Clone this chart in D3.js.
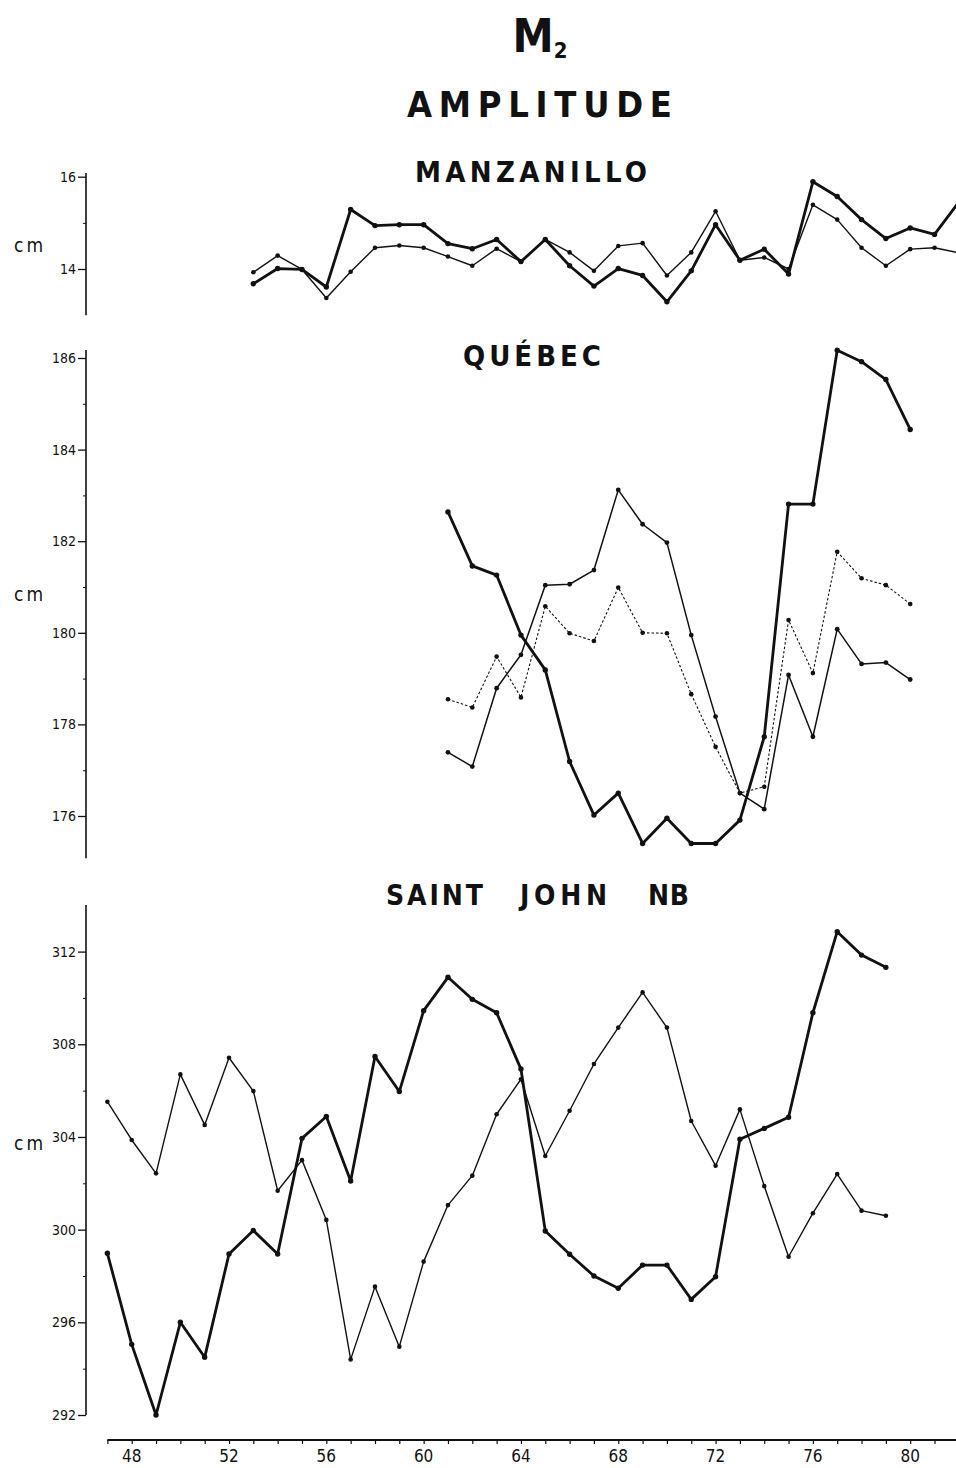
<!DOCTYPE html>
<html>
<head>
<meta charset="utf-8">
<script src="https://cdnjs.cloudflare.com/ajax/libs/d3/7.8.5/d3.min.js"></script>
<style>
body { margin:0; background:#fff; }
svg { display:block; }
.title { font-family:"DejaVu Sans Condensed","DejaVu Sans",sans-serif; font-weight:bold; fill:#111; }
.lbl { font-family:"DejaVu Sans Condensed","DejaVu Sans",sans-serif; fill:#111; }
.axis path, .axis line { stroke:#111; }
</style>
</head>
<body>
<script>
// ---- data ----
var manzYears = [53,54,55,56,57,58,59,60,61,62,63,64,65,66,67,68,69,70,71,72,73,74,75,76,77,78,79,80,81,82];
var manzThick = [13.68,14.01,13.99,13.61,15.29,14.94,14.96,14.96,14.55,14.44,14.64,14.16,14.64,14.07,13.63,14.01,13.86,13.29,13.96,14.96,14.19,14.43,13.89,15.89,15.57,15.07,14.66,14.89,14.75,15.45];
var manzThin  = [13.93,14.29,13.99,13.37,13.94,14.46,14.51,14.46,14.27,14.07,14.44,14.16,14.64,14.36,13.96,14.50,14.56,13.86,14.36,15.25,14.19,14.25,14.00,15.39,15.07,14.46,14.07,14.43,14.46,14.35];

var quebYears  = [61,62,63,64,65,66,67,68,69,70,71,72,73,74,75,76,77,78,79,80];
var quebThick  = [182.64,181.46,181.26,179.95,179.19,177.19,176.02,176.50,175.40,175.95,175.40,175.40,175.91,177.73,182.81,182.81,186.17,185.92,185.53,184.44];
var quebThin   = [177.39,177.08,178.79,179.52,181.04,181.06,181.37,183.12,182.37,181.97,179.95,178.17,176.50,176.15,179.08,177.73,180.08,179.32,179.35,178.98];
var quebDotted = [178.55,178.37,179.48,178.59,180.58,179.99,179.82,180.99,180.00,179.99,178.66,177.51,176.50,176.64,180.28,179.12,181.77,181.19,181.04,180.63];

var sjYears = [47,48,49,50,51,52,53,54,55,56,57,58,59,60,61,62,63,64,65,66,67,68,69,70,71,72,73,74,75,76,77,78,79];
var sjThin  = [305.52,303.87,302.43,306.70,304.52,307.42,305.98,301.68,303.00,300.42,294.40,297.54,294.95,298.62,301.06,302.33,304.98,306.49,303.18,305.13,307.15,308.72,310.24,308.72,304.69,302.76,305.19,301.88,298.83,300.71,302.40,300.82,300.60];
var sjThick = [298.98,295.05,292.00,296.00,294.49,298.95,299.96,298.95,303.94,304.88,302.10,307.47,305.96,309.45,310.89,309.94,309.36,306.93,299.94,298.94,298.00,297.47,298.47,298.47,296.99,297.97,303.90,304.37,304.85,309.36,312.86,311.85,311.32];

var xTickYears  = [47,48,49,50,51,52,53,54,55,56,57,58,59,60,61,62,63,64,65,66,67,68,69,70,71,72,73,74,75,76,77,78,79,80,81,82];
var xLabelYears = [48,52,56,60,64,68,72,76,80];

var manzTicks = [14,16], manzMinor = [15];
var quebTicks = [176,178,180,182,184,186], quebMinor = [177,179,181,183,185];
var sjTicks = [292,296,300,304,308,312], sjMinor = [294,298,302,306,310];

// ---- layout ----
var width = 956, height = 1468;
var axisX = 86;

var svg = d3.select("body").append("svg")
	.attr("width", width)
	.attr("height", height)
	.style("background", "#fff");

var x = d3.scaleLinear().domain([48, 80]).range([131.7, 910.2]);

function zip(years, vals){
	return years.map(function(y, i){ return {year:y, value:vals[i]}; });
}

var panels = [
	{ name:"MANZANILLO", y:d3.scaleLinear().domain([14,16]).range([269,176.7]), top:173, bottom:13,
	  ticks:manzTicks, minor:manzMinor, cmY:252,
	  title:{ parts:[{t:"MANZANILLO", x:415, len:232}], y:182, size:29 },
	  series:[ {years:manzYears, vals:manzThin, w:1.4, r:2.3}, {years:manzYears, vals:manzThick, w:2.8, r:2.7} ] },
	{ name:"QUEBEC", y:d3.scaleLinear().domain([176,186]).range([816,358]), top:350, bottom:175.08,
	  ticks:quebTicks, minor:quebMinor, cmY:601,
	  title:{ parts:[{t:"QUÉBEC", x:463, len:138}], y:366, size:29 },
	  series:[ {years:quebYears, vals:quebDotted, w:1.1, r:2.3, dash:"2.5,2"}, {years:quebYears, vals:quebThin, w:1.5, r:2.4}, {years:quebYears, vals:quebThick, w:2.8, r:2.7} ] },
	{ name:"SAINTJOHN", y:d3.scaleLinear().domain([292,312]).range([1415,951.6]), top:905, bottom:292,
	  ticks:sjTicks, minor:sjMinor, cmY:1150,
	  title:{ parts:[{t:"SAINT", x:386, len:97}, {t:"JOHN", x:520, len:87}, {t:"NB", x:648, len:41}], y:905, size:28 },
	  series:[ {years:sjYears, vals:sjThin, w:1.4, r:2.3}, {years:sjYears, vals:sjThick, w:2.8, r:2.7} ] }
];

// ---- headings ----
var head = svg.append("text").attr("class", "title").attr("x", 540).attr("y", 52).attr("text-anchor", "middle");
head.append("tspan").attr("font-size", 46).text("M");
head.append("tspan").attr("font-size", 22).attr("dy", 6).text("2");

svg.append("text").attr("class", "title")
	.attr("x", 407).attr("y", 117)
	.attr("font-size", 36)
	.attr("textLength", 265).attr("lengthAdjust", "spacing")
	.text("AMPLITUDE");

// ---- panels ----
panels.forEach(function(p){
	var g = svg.append("g");

	p.title.parts.forEach(function(part){
		g.append("text").attr("class", "title")
			.attr("x", part.x).attr("y", p.title.y)
			.attr("font-size", p.title.size)
			.attr("textLength", part.len).attr("lengthAdjust", "spacing")
			.text(part.t);
	});

	// y axis
	g.append("line")
		.attr("x1", axisX).attr("x2", axisX)
		.attr("y1", p.top).attr("y2", p.y(p.bottom))
		.attr("stroke", "#111").attr("stroke-width", 1.6);

	var ax = g.append("g").attr("class", "axis").attr("transform", "translate(" + axisX + ",0)")
		.call(d3.axisLeft(p.y).tickValues(p.ticks).tickSize(8).tickPadding(2).tickFormat(d3.format("d")));
	ax.select(".domain").remove();
	ax.selectAll("text").attr("class", "lbl").attr("font-size", 14).attr("fill", "#111");
	ax.selectAll("line").attr("stroke-width", 1.3);

	var mn = g.append("g").attr("class", "axis").attr("transform", "translate(" + axisX + ",0)")
		.call(d3.axisLeft(p.y).tickValues(p.minor).tickSize(3).tickFormat(""));
	mn.select(".domain").remove();

	g.append("text").attr("class", "lbl")
		.attr("x", 14).attr("y", p.cmY)
		.attr("font-size", 19).attr("letter-spacing", 3)
		.text("cm");

	// series
	var line = d3.line()
		.x(function(d){ return x(d.year); })
		.y(function(d){ return p.y(d.value); });

	p.series.forEach(function(s){
		var pts = zip(s.years, s.vals);
		g.append("path")
			.datum(pts)
			.attr("d", line)
			.attr("fill", "none")
			.attr("stroke", "#111")
			.attr("stroke-width", s.w)
			.attr("stroke-linejoin", "round")
			.attr("stroke-dasharray", s.dash || null);
		g.selectAll(null)
			.data(pts)
			.enter().append("circle")
			.attr("cx", function(d){ return x(d.year); })
			.attr("cy", function(d){ return p.y(d.value); })
			.attr("r", s.r)
			.attr("fill", "#111");
	});
});

// ---- x axis ----
var axisY = 1440;
svg.append("line")
	.attr("x1", x(47)).attr("x2", width)
	.attr("y1", axisY).attr("y2", axisY)
	.attr("stroke", "#111").attr("stroke-width", 1.8);

var xa = svg.append("g").attr("class", "axis").attr("transform", "translate(0," + axisY + ")")
	.call(d3.axisBottom(x).tickValues(xTickYears).tickSize(4).tickFormat(""));
xa.select(".domain").remove();
xa.selectAll("line").attr("stroke-width", 1.2);

svg.append("g").selectAll("text")
	.data(xLabelYears)
	.enter().append("text")
	.attr("class", "lbl")
	.attr("x", function(d){ return x(d); })
	.attr("y", 1462)
	.attr("text-anchor", "middle")
	.attr("font-size", 17)
	.text(function(d){ return d; });
</script>
</body>
</html>
